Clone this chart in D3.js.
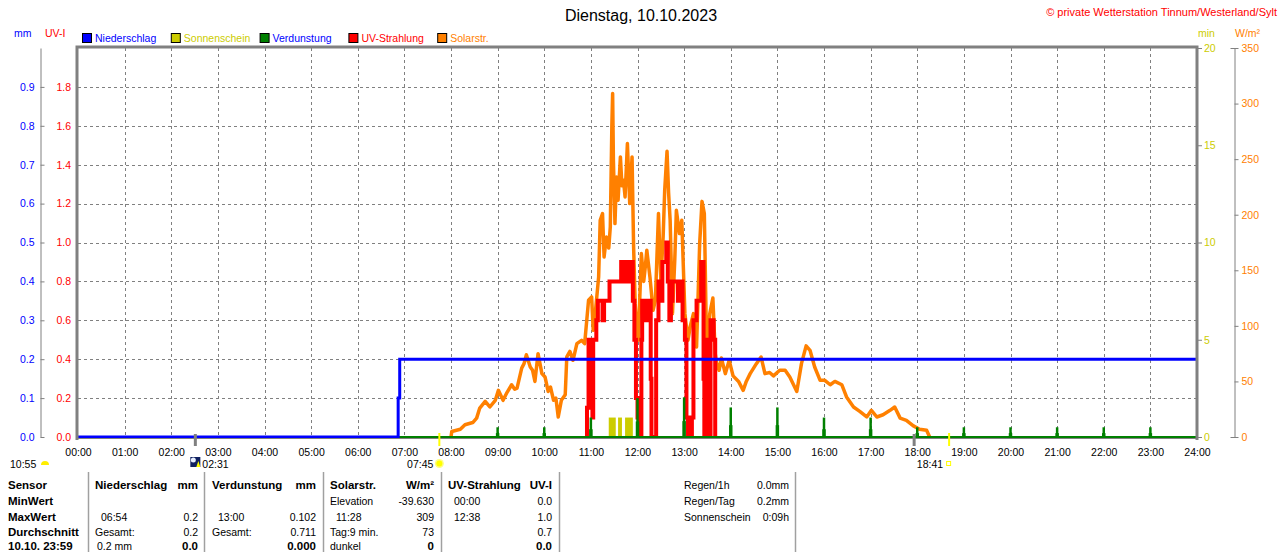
<!DOCTYPE html>
<html>
<head>
<meta charset="utf-8">
<script src="https://cdn.jsdelivr.net/npm/d3@7"></script>
<style>
body { margin: 0; background: #fff; }
svg text { font-family: "Liberation Sans", Arial, sans-serif; font-size: 10.5px; }
</style>
</head>
<body>
<svg id="chart" width="1280" height="552"></svg>
<script>
// Niederschlag, cumulative mm
const rain_data = [["00:00", 0], ["06:52", 0.1], ["06:54", 0.2], ["24:00", 0.2]]

// Sonnenschein, minutes [start, end, min]
const sun_data = [["11:23", "11:32", 1], ["11:35", "11:40", 1], ["11:44", "11:54", 1]]

// Verdunstung, mm per hour
const evap_data = [["09:00", 0.025], ["10:00", 0.025], ["11:00", 0.05], ["12:00", 0.1], ["13:00", 0.102],
    ["14:00", 0.076], ["15:00", 0.076], ["16:00", 0.05], ["17:00", 0.05], ["18:00", 0.025],
    ["19:00", 0.025], ["20:00", 0.025], ["21:00", 0.025], ["22:00", 0.025], ["23:00", 0.025]]

// UV-Strahlung, UV-I
const uv_data = [["10:54", 0], ["10:55", 0.15], ["10:57", 0.5], ["11:02", 0.1], ["11:03", 0.5], ["11:07", 0.6],
    ["11:09", 0.7], ["11:15", 0.6], ["11:17", 0.7], ["11:24", 0.8], ["11:39", 0.9], ["11:44", 0.8],
    ["11:49", 0.9], ["11:54", 0.7], ["11:56", 0.5], ["11:58", 0.2], ["12:00", 0.1], ["12:02", 0],
    ["12:05", 0.5], ["12:06", 0.7], ["12:11", 0.6], ["12:13", 0.7], ["12:17", 0.3], ["12:18", 0],
    ["12:24", 0.6], ["12:27", 0.8], ["12:30", 0.7], ["12:32", 0.9], ["12:37", 1.0], ["12:39", 0.8],
    ["12:41", 0.6], ["12:43", 0.7], ["12:45", 0.8], ["12:52", 0.7], ["12:55", 0.8], ["12:58", 0.6],
    ["13:01", 0.5], ["13:03", 0.1], ["13:05", 0], ["13:10", 0.1], ["13:12", 0.6], ["13:16", 0.7],
    ["13:22", 0.9], ["13:25", 0.3], ["13:26", 0], ["13:28", 0.5], ["13:31", 0.2], ["13:33", 0],
    ["13:34", 0.6], ["13:38", 0.5], ["13:40", 0], ["13:41", 0]]

// Solarstr., W/m2
const solar_data = [["08:00", 0], ["08:01", 5], ["08:12", 7], ["08:18", 11], ["08:28", 13], ["08:33", 17],
    ["08:37", 26], ["08:44", 32], ["08:50", 27], ["08:57", 33], ["09:01", 42], ["09:07", 33],
    ["09:12", 40], ["09:18", 47], ["09:22", 43], ["09:25", 44], ["09:31", 62], ["09:34", 66],
    ["09:37", 74], ["09:42", 63], ["09:45", 60], ["09:48", 50], ["09:52", 75], ["09:57", 57],
    ["10:01", 54], ["10:05", 41], ["10:08", 45], ["10:12", 33], ["10:15", 35], ["10:18", 18],
    ["10:22", 33], ["10:27", 38], ["10:29", 72], ["10:33", 77], ["10:37", 69], ["10:42", 84],
    ["10:48", 87], ["10:52", 84], ["10:57", 123], ["11:01", 126], ["11:03", 96], ["11:06", 114],
    ["11:10", 144], ["11:12", 195], ["11:15", 201], ["11:17", 162], ["11:20", 180], ["11:23", 170],
    ["11:25", 189], ["11:27", 280], ["11:28", 309], ["11:29", 249], ["11:31", 192], ["11:33", 234],
    ["11:35", 213], ["11:38", 252], ["11:40", 226], ["11:42", 231], ["11:44", 216], ["11:47", 264],
    ["11:50", 210], ["11:53", 252], ["11:55", 171], ["11:57", 120], ["11:59", 99], ["12:01", 87],
    ["12:05", 165], ["12:08", 140], ["12:10", 153], ["12:12", 168], ["12:16", 144], ["12:20", 114],
    ["12:23", 123], ["12:27", 201], ["12:30", 141], ["12:33", 180], ["12:35", 222], ["12:38", 257],
    ["12:40", 220], ["12:42", 195], ["12:45", 111], ["12:48", 160], ["12:50", 204], ["12:54", 183],
    ["12:57", 195], ["13:01", 111], ["13:05", 87], ["13:08", 100], ["13:12", 111], ["13:16", 81],
    ["13:20", 174], ["13:23", 212], ["13:26", 201], ["13:29", 78], ["13:33", 111], ["13:37", 125],
    ["13:40", 75], ["13:42", 66], ["13:45", 60], ["13:48", 71], ["13:53", 57], ["13:58", 69],
    ["14:03", 55], ["14:10", 50], ["14:16", 42], ["14:20", 50], ["14:25", 57], ["14:33", 66],
    ["14:39", 72], ["14:44", 57], ["14:50", 58], ["14:55", 55], ["15:03", 60], ["15:10", 60],
    ["15:16", 54], ["15:25", 41], ["15:31", 66], ["15:37", 82], ["15:42", 78], ["15:48", 63],
    ["15:55", 51], ["16:01", 51], ["16:08", 47], ["16:14", 50], ["16:23", 47], ["16:29", 36],
    ["16:38", 27], ["16:46", 23], ["16:55", 18], ["17:01", 24], ["17:08", 18], ["17:16", 20],
    ["17:25", 24], ["17:31", 27], ["17:38", 17], ["17:46", 15], ["17:55", 10], ["18:03", 7],
    ["18:12", 6], ["18:16", 0]]

const hour_ticks = d3.range(0, 25)
const mm_ticks = [0, 0.1, 0.2, 0.3, 0.4, 0.5, 0.6, 0.7, 0.8, 0.9]
const uv_ticks = [0, 0.2, 0.4, 0.6, 0.8, 1.0, 1.2, 1.4, 1.6, 1.8]
const min_ticks = [0, 5, 10, 15, 20]
const w_ticks = [0, 50, 100, 150, 200, 250, 300, 350]

const legend_names = ["Niederschlag", "Sonnenschein", "Verdunstung", "UV-Strahlung", "Solarstr."]
const legend_colors = ["#0000ff", "#cccc00", "#008000", "#ff0000", "#ff8000"]
const legend_text_colors = ["#0000ff", "#cccc00", "#0000ff", "#ff0000", "#ff8000"]

const gray_ticks = ["02:31", "17:56"]
const sun_ticks = ["07:45", "18:41"]

const sensor_labels = ["Sensor", "MinWert", "MaxWert", "Durchschnitt", "10.10. 23:59"]
const col_heads = [["Niederschlag", "mm"], ["Verdunstung", "mm"], ["Solarstr.", "W/m²"], ["UV-Strahlung", "UV-I"]]
const col_texts = [["", "06:54", "Gesamt:", "0.2 mm"], ["", "13:00", "Gesamt:", ""],
    ["Elevation", "11:28", "Tag:9 min.", "dunkel"], ["00:00", "12:38", "", ""]]
const col_values = [["", "0.2", "0.2", "0.0"], ["", "0.102", "0.711", "0.000"],
    ["-39.630", "309", "73", "0"], ["0.0", "1.0", "0.7", "0.0"]]
const summary_labels = ["Regen/1h", "Regen/Tag", "Sonnenschein"]
const summary_values = ["0.0mm", "0.2mm", "0:09h"]

function hrs(s) {
    const p = s.split(":")
    return +p[0] + (+p[1]) / 60
}

const svg = d3.select("#chart")
const plot_left = 78, plot_right = 1197, plot_top = 48, plot_bottom = 437

const x = d3.scaleLinear().domain([0, 24]).range([plot_left, plot_right])
const y_mm = d3.scaleLinear().domain([0, 1]).range([plot_bottom, plot_top])
const y_uv = d3.scaleLinear().domain([0, 2]).range([plot_bottom, plot_top])
const y_min = d3.scaleLinear().domain([0, 20]).range([plot_bottom, plot_top])
const y_w = d3.scaleLinear().domain([0, 350]).range([plot_bottom, plot_top])

// title
svg.append("text")
    .attr("x", 641).attr("y", 21)
    .attr("text-anchor", "middle")
    .style("font-size", "16px")
    .text("Dienstag, 10.10.2023")
svg.append("text")
    .attr("x", 1277).attr("y", 16)
    .attr("text-anchor", "end")
    .attr("fill", "#ff0000")
    .style("font-size", "11px")
    .text("© private Wetterstation Tinnum/Westerland/Sylt")

// axis unit labels
svg.append("text").attr("x", 14).attr("y", 37).attr("fill", "#0000ff").text("mm")
svg.append("text").attr("x", 45).attr("y", 37).attr("fill", "#ff0000").text("UV-I")
svg.append("text").attr("x", 1198).attr("y", 37).attr("fill", "#cccc00").text("min")
svg.append("text").attr("x", 1235).attr("y", 37).attr("fill", "#ff8000").text("W/m²")

// legend
let legend = svg.append("g")
legend_names.forEach(function (name, i) {
    legend.append("rect")
        .attr("x", 82.5 + i * 88.8).attr("y", 33.5)
        .attr("width", 9).attr("height", 9)
        .attr("fill", legend_colors[i])
        .attr("stroke", "#000")
    legend.append("text")
        .attr("x", 95 + i * 88.8).attr("y", 42)
        .attr("fill", legend_text_colors[i])
        .text(name)
})

// grid
svg.append("g").selectAll("line")
    .data(mm_ticks.slice(1))
    .enter().append("line")
    .attr("x1", plot_left).attr("x2", plot_right)
    .attr("y1", d => Math.round(y_mm(d)) + 0.5).attr("y2", d => Math.round(y_mm(d)) + 0.5)
    .attr("stroke", "#808080").attr("stroke-dasharray", "3,3")
svg.append("g").selectAll("line")
    .data(hour_ticks.slice(1, 24))
    .enter().append("line")
    .attr("x1", d => Math.round(x(d)) + 0.5).attr("x2", d => Math.round(x(d)) + 0.5)
    .attr("y1", plot_top).attr("y2", plot_bottom)
    .attr("stroke", "#808080").attr("stroke-dasharray", "3,3")

// left axes
let mm_axis = svg.append("g")
    .attr("transform", "translate(40.5,0)")
    .call(d3.axisLeft(y_mm).tickValues(mm_ticks).tickSize(4).tickSizeOuter(0).tickPadding(2)
        .tickFormat(d3.format(".1f")))
mm_axis.selectAll(".tick line").attr("x2", 4)
let uv_axis = svg.append("g")
    .attr("transform", "translate(71,0)")
    .call(d3.axisLeft(y_uv).tickValues(uv_ticks).tickSize(0).tickPadding(0)
        .tickFormat(d3.format(".1f")))
uv_axis.select(".domain").remove()
mm_axis.selectAll("text").attr("fill", "#0000ff")
uv_axis.selectAll("text").attr("fill", "#ff0000")

// right axes
let min_axis = svg.append("g")
    .attr("transform", "translate(1197,0)")
    .call(d3.axisRight(y_min).tickValues(min_ticks).tickSize(5).tickPadding(2))
min_axis.select(".domain").remove()
min_axis.selectAll("text").attr("fill", "#cccc00")
let w_axis = svg.append("g")
    .attr("transform", "translate(1234.5,0)")
    .call(d3.axisRight(y_w).tickValues(w_ticks).tickSize(4).tickSizeOuter(-4).tickPadding(3))
w_axis.selectAll("text").attr("fill", "#ff8000")

// x axis
let x_axis = svg.append("g")
    .attr("transform", "translate(0," + plot_bottom + ")")
    .call(d3.axisBottom(x).tickValues(hour_ticks).tickSize(0).tickPadding(12)
        .tickFormat(d => (d < 10 ? "0" : "") + d + ":00"))
x_axis.select(".domain").remove()

svg.selectAll(".tick line, .domain").attr("stroke", "#808080")
svg.selectAll(".tick text").style("font-size", "10.5px").style("font-family", "'Liberation Sans', Arial, sans-serif")

// series
svg.append("path")
    .datum(solar_data)
    .attr("fill", "none")
    .attr("stroke", "#ff8000")
    .attr("stroke-width", 3.5)
    .attr("stroke-linejoin", "round")
    .attr("d", d3.line()
        .x(d => x(hrs(d[0])))
        .y(d => y_w(d[1])))

svg.append("g").selectAll("rect")
    .data(sun_data)
    .enter().append("rect")
    .attr("x", d => x(hrs(d[0])))
    .attr("width", d => x(hrs(d[1])) - x(hrs(d[0])))
    .attr("y", d => y_min(d[2]))
    .attr("height", d => y_min(0) - y_min(d[2]))
    .attr("fill", "#cccc00")

svg.append("path")
    .datum(uv_data)
    .attr("fill", "none")
    .attr("stroke", "#ff0000")
    .attr("stroke-width", 4)
    .attr("d", d3.line()
        .curve(d3.curveStepAfter)
        .x(d => x(hrs(d[0])))
        .y(d => y_uv(d[1])))

svg.append("line")
    .attr("x1", x(0)).attr("x2", x(24))
    .attr("y1", y_mm(0)).attr("y2", y_mm(0))
    .attr("stroke", "#008000").attr("stroke-width", 2)
let evap = svg.append("g")
evap.selectAll(".top")
    .data(evap_data)
    .enter().append("line")
    .attr("x1", d => x(hrs(d[0]))).attr("x2", d => x(hrs(d[0])))
    .attr("y1", y_mm(0)).attr("y2", d => y_mm(d[1]))
    .attr("stroke", "#008000").attr("stroke-width", 2.5)
evap.selectAll(".base")
    .data(evap_data)
    .enter().append("line")
    .attr("x1", d => x(hrs(d[0]))).attr("x2", d => x(hrs(d[0])))
    .attr("y1", y_mm(0)).attr("y2", d => y_mm(d[1] * 0.4))
    .attr("stroke", "#008000").attr("stroke-width", 3.5)

svg.append("path")
    .datum(rain_data)
    .attr("fill", "none")
    .attr("stroke", "#0000ff")
    .attr("stroke-width", 3)
    .attr("d", d3.line()
        .curve(d3.curveStepAfter)
        .x(d => x(hrs(d[0])))
        .y(d => y_mm(d[1])))

// frame
svg.append("path")
    .attr("d", "M" + (plot_left - 1) + "," + (plot_bottom + 3) + "V" + (plot_top - 1) + "H" + plot_right + "V" + (plot_bottom + 3))
    .attr("fill", "none").attr("stroke", "#808080").attr("stroke-width", 3)
svg.append("line")
    .attr("x1", plot_left).attr("x2", plot_right).attr("y1", plot_bottom + 1.5).attr("y2", plot_bottom + 1.5)
    .attr("stroke", "#808080").attr("stroke-width", 1)

// sun and moon marks
svg.append("g").selectAll("line")
    .data(gray_ticks)
    .enter().append("line")
    .attr("x1", d => x(hrs(d))).attr("x2", d => x(hrs(d)))
    .attr("y1", plot_bottom - 3).attr("y2", plot_bottom + 9)
    .attr("stroke", "#808080").attr("stroke-width", 3)
svg.append("g").selectAll("line")
    .data(sun_ticks)
    .enter().append("line")
    .attr("x1", d => x(hrs(d))).attr("x2", d => x(hrs(d)))
    .attr("y1", plot_bottom - 4).attr("y2", plot_bottom + 9)
    .attr("stroke", "#ffff00").attr("stroke-width", 2)

svg.append("text").attr("x", 10).attr("y", 467.5).text("10:55")
svg.append("path")
    .attr("d", "M41,465 A4,4 0 0 1 49,465 Z")
    .attr("fill", "#ffee00")

const moon_x = x(hrs(gray_ticks[0]))
svg.append("rect").attr("x", moon_x - 5).attr("y", 457).attr("width", 10).attr("height", 10).attr("fill", "#102060")
svg.append("circle").attr("cx", moon_x - 2).attr("cy", 460).attr("r", 2.5).attr("fill", "#e8f0ff")
svg.append("path").attr("d", "M" + (moon_x + 1) + ",467 l2,-6 l2,6 Z").attr("fill", "#ffff00")
svg.append("text").attr("x", moon_x + 7).attr("y", 467.5).text(gray_ticks[0])

const rise_x = x(hrs(sun_ticks[0]))
svg.append("text").attr("x", rise_x - 6).attr("y", 467.5).attr("text-anchor", "end").text(sun_ticks[0])
svg.append("circle").attr("cx", rise_x).attr("cy", 463.5).attr("r", 4.5).attr("fill", "#ffff80")
svg.append("circle").attr("cx", rise_x).attr("cy", 463.5).attr("r", 3).attr("fill", "#ffff00")

const set_x = x(hrs(sun_ticks[1]))
svg.append("text").attr("x", set_x - 6).attr("y", 467.5).attr("text-anchor", "end").text(sun_ticks[1])
svg.append("rect").attr("x", set_x - 2.5).attr("y", 461.5).attr("width", 4).attr("height", 4)
    .attr("fill", "none").attr("stroke", "#ffff00")

// table
const row_y = [489, 505, 521, 536, 550]
const col_left = [95, 212, 330, 448]
const col_right = [198, 316, 434, 552]
const sep_x = [88.5, 204.5, 323.5, 441.5, 559.5, 795.5]

svg.append("g").selectAll("line")
    .data(sep_x)
    .enter().append("line")
    .attr("x1", d => d).attr("x2", d => d)
    .attr("y1", 472).attr("y2", 552)
    .attr("stroke", "#a0a0a0").attr("stroke-width", 1.5)

let table = svg.append("g")
sensor_labels.forEach(function (t, i) {
    table.append("text").attr("x", 8).attr("y", row_y[i])
        .style("font-weight", "bold").style("font-size", "11.5px").text(t)
})
col_heads.forEach(function (h, c) {
    table.append("text").attr("x", col_left[c]).attr("y", row_y[0])
        .style("font-weight", "bold").style("font-size", "11.5px").text(h[0])
    table.append("text").attr("x", col_right[c]).attr("y", row_y[0]).attr("text-anchor", "end")
        .style("font-weight", "bold").style("font-size", "11.5px").text(h[1])
    col_texts[c].forEach(function (t, r) {
        const indent = /^\d\d:\d\d$/.test(t) ? 6 : (/mm$/.test(t) ? 2 : 0)
        table.append("text").attr("x", col_left[c] + indent).attr("y", row_y[r + 1]).text(t)
    })
    col_values[c].forEach(function (t, r) {
        let v = table.append("text").attr("x", col_right[c]).attr("y", row_y[r + 1])
            .attr("text-anchor", "end").text(t)
        if (r === 3) {
            v.style("font-weight", "bold").style("font-size", "11.5px")
        }
    })
})
summary_labels.forEach(function (t, i) {
    table.append("text").attr("x", 684).attr("y", row_y[i]).text(t)
    table.append("text").attr("x", 789).attr("y", row_y[i]).attr("text-anchor", "end").text(summary_values[i])
})
</script>
</body>
</html>
